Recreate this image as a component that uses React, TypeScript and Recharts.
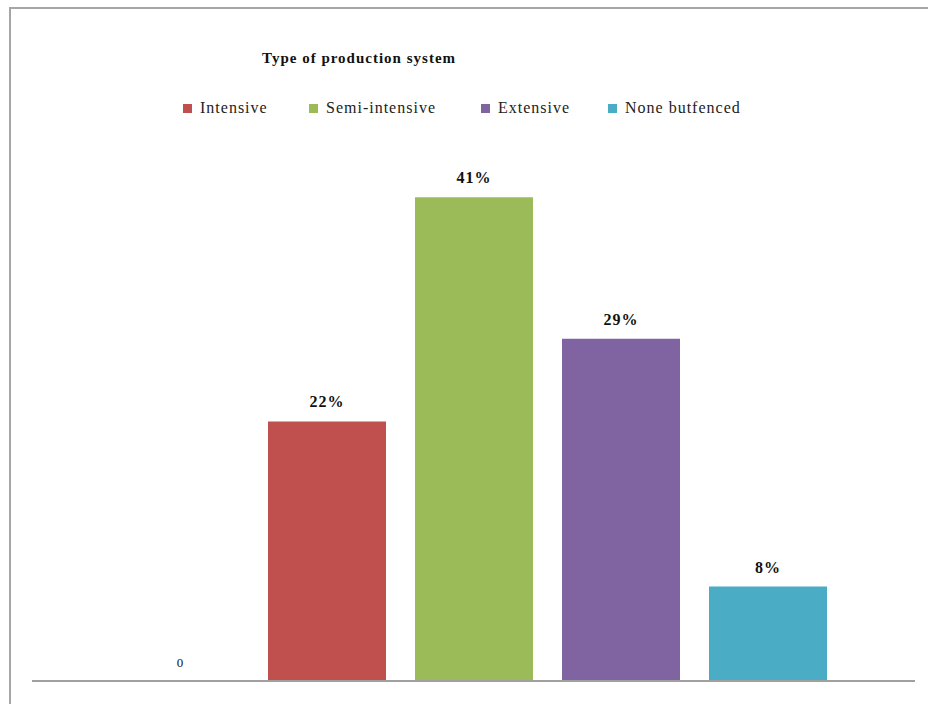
import React from 'react';
import {Bar, BarChart, LabelList, XAxis, YAxis} from 'recharts';

const categories = ['Type of production system'];
const seriesNames = ['', 'Intensive', 'Semi-intensive', 'Extensive', 'None butfenced'];
const seriesValues = [0, 22, 41, 29, 8];
const seriesColors = ['#FFFFFF', '#C0504D', '#9BBB59', '#8064A2', '#4BACC6'];
const legendLeft = [183, 309, 481, 608];

const data = categories.map((name) => {
    const row: Record<string, string | number> = {name};
    seriesNames.forEach((s, i) => {
        row[`s${i}`] = seriesValues[i];
    });
    return row;
});

const serif = '"Liberation Serif", "DejaVu Serif", serif';

const LegendBox = () => (
    <div style={{position: 'absolute', left: 0, top: 99, height: 20, width: 928}}>
        {seriesNames.slice(1).map((s, i) => (
            <div
                key={s}
                style={{
                    position: 'absolute',
                    left: legendLeft[i],
                    top: 0,
                    display: 'flex',
                    alignItems: 'center',
                    fontFamily: serif,
                    fontSize: 16,
                    letterSpacing: 1,
                    color: '#222',
                    whiteSpace: 'nowrap',
                }}
            >
                <span
                    style={{
                        display: 'inline-block',
                        width: 9,
                        height: 9,
                        background: seriesColors[i + 1],
                        marginRight: 8,
                    }}
                />
                {s}
            </div>
        ))}
    </div>
);

const App = () => {
    return (
        <div style={{position: 'absolute', left: 0, top: 0, width: 928, height: 704, overflow: 'hidden', background: '#fff'}}>
            <div
                style={{
                    position: 'absolute',
                    left: 9,
                    top: 7,
                    width: 940,
                    height: 720,
                    borderLeft: '2px solid #A6A6A6',
                    borderTop: '2px solid #A6A6A6',
                }}
            />
            <div
                style={{
                    position: 'absolute',
                    left: 262,
                    top: 50,
                    fontFamily: serif,
                    fontWeight: 'bold',
                    fontSize: 15,
                    letterSpacing: 1,
                    color: '#111',
                    whiteSpace: 'nowrap',
                }}
            >
                {categories[0]}
            </div>
            <LegendBox />
            <div style={{position: 'absolute', left: 0, top: 0}}>
                <BarChart
                    width={928}
                    height={704}
                    data={data}
                    margin={{top: 150, right: 13, bottom: 22, left: 32}}
                    barSize={118}
                    barGap={29}
                >
                    <XAxis
                        dataKey='name'
                        tick={false}
                        tickLine={false}
                        height={1}
                        axisLine={{stroke: '#A0A0A0', strokeWidth: 2}}
                    />
                    <YAxis hide domain={[0, 45]} />
                    {seriesNames.map((s, i) => (
                        <Bar
                            key={i}
                            dataKey={`s${i}`}
                            name={s || 'blank'}
                            fill={seriesColors[i]}
                            minPointSize={i === 0 ? 0.5 : 0}
                            isAnimationActive={false}
                        >
                            <LabelList
                                dataKey={`s${i}`}
                                position='top'
                                offset={14}
                                fill='#111'
                                fontFamily={serif}
                                fontWeight={i === 0 ? 'normal' : 'bold'}
                                fontSize={i === 0 ? 13 : 16}
                                letterSpacing={i === 0 ? 0 : 1}
                                formatter={(v: number) => (i === 0 ? `${v}` : `${v}%`)}
                            />
                        </Bar>
                    ))}
                </BarChart>
            </div>
        </div>
    );
};

export default App;
